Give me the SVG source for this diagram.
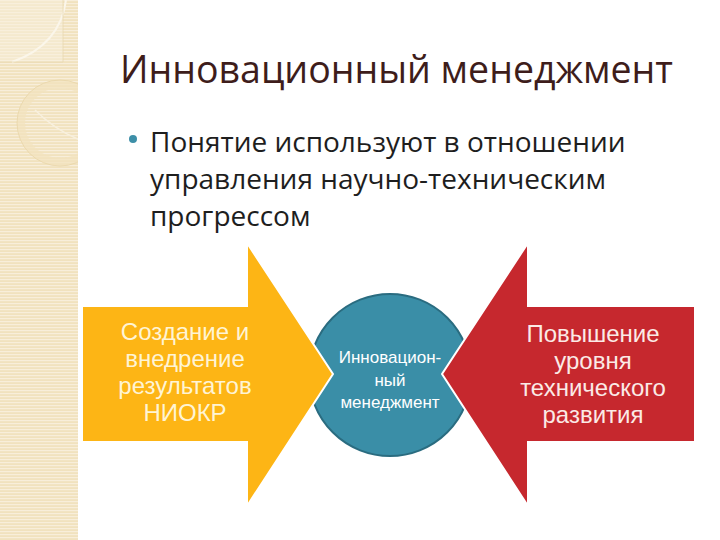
<svg xmlns="http://www.w3.org/2000/svg" width="720" height="540" viewBox="0 0 720 540">
<defs>
<pattern id="lines" x="0" y="0" width="6" height="3" patternUnits="userSpaceOnUse">
<rect width="6" height="3" fill="#F1E2BE"/>
<rect width="6" height="1.2" fill="#F8EEDA"/>
</pattern>
<clipPath id="strip"><rect x="0" y="0" width="78" height="540"/></clipPath>
<style>
.title{font-family:"Open Sans","Noto Sans",sans-serif;font-size:37.5px;fill:#3E1D1B}
.body{font-family:"Open Sans","Noto Sans",sans-serif;font-size:28px;fill:#1E1E1E}
.lbl{font-family:"Liberation Sans",Arial,sans-serif;text-anchor:middle}
.arrow{stroke:#FFFFFF;stroke-width:2;stroke-linejoin:miter}
</style>
</defs>
<rect width="720" height="540" fill="#FFFFFF"/>
<g id="strip-decor" clip-path="url(#strip)">
<rect x="0" y="0" width="78" height="540" fill="url(#lines)"/>
<rect x="0" y="0" width="63" height="62" fill="#F8F0DE" opacity="0.5"/>
<path d="M66,0 Q60,45 12,62" fill="none" stroke="#FBF6EA" stroke-width="2"/>
<line x1="63" y1="0" x2="63" y2="62" stroke="#E9D8B0" stroke-width="0.8"/>
<line x1="0" y1="62" x2="63" y2="62" stroke="#E9D8B0" stroke-width="0.8"/>
<circle cx="60" cy="123" r="39" fill="none" stroke="#F2E3BD" stroke-width="8" opacity="0.7"/>
<circle cx="60" cy="123" r="43" fill="none" stroke="#E8D5A8" stroke-width="0.8"/>
<path d="M35,110 Q55,130 80,140" fill="none" stroke="#F8F0DE" stroke-width="1.5"/>
</g>
<text class="title" x="120" y="83">Инновационный менеджмент</text>
<circle cx="133" cy="139" r="4" fill="#3D8FA8"/>
<text class="body" x="150" y="152">Понятие используют в отношении</text>
<text class="body" x="150" y="189">управления научно-техническим</text>
<text class="body" x="150" y="226">прогрессом</text>
<g id="node-center">
<circle cx="390" cy="375" r="81" fill="#3A8EA7" stroke="#2A6C80" stroke-width="2"/>
<text class="lbl" x="390" y="363" font-size="17" fill="#FFFFFF">Инновацион-</text>
<text class="lbl" x="390" y="386" font-size="17" fill="#FFFFFF">ный</text>
<text class="lbl" x="390" y="408" font-size="17" fill="#FFFFFF">менеджмент</text>
</g>
<g id="node-create">
<path class="arrow" d="M82,306 L247,306 L247,243 L333,374 L247,506 L247,442 L82,442 Z" fill="#FDB515"/>
<text class="lbl" x="185" y="340" font-size="24" fill="#FFF4D4">Создание и</text>
<text class="lbl" x="185" y="367" font-size="24" fill="#FFF4D4">внедрение</text>
<text class="lbl" x="185" y="394" font-size="24" fill="#FFF4D4">результатов</text>
<text class="lbl" x="185" y="421" font-size="24" fill="#FFF4D4">НИОКР</text>
</g>
<g id="node-raise">
<path class="arrow" d="M695,306 L528,306 L528,243 L442,374 L528,506 L528,442 L695,442 Z" fill="#C6282E"/>
<text class="lbl" x="593" y="342" font-size="24" fill="#FBEAE6">Повышение</text>
<text class="lbl" x="593" y="369" font-size="24" fill="#FBEAE6">уровня</text>
<text class="lbl" x="593" y="396" font-size="24" fill="#FBEAE6">технического</text>
<text class="lbl" x="593" y="423" font-size="24" fill="#FBEAE6">развития</text>
</g>
<g id="connectors"/>
</svg>
